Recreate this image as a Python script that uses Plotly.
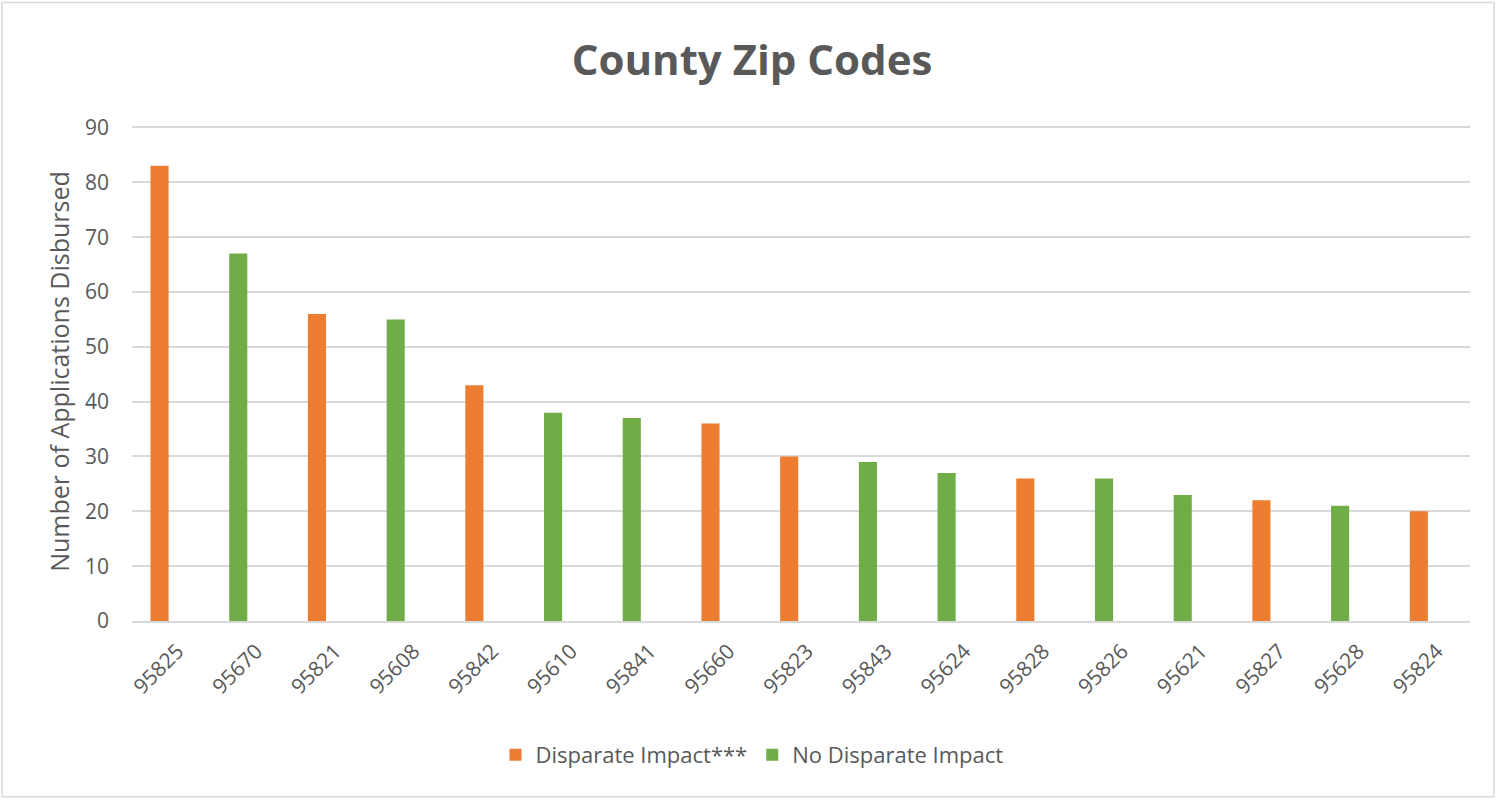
import plotly.graph_objects as go

zips = ["95825", "95670", "95821", "95608", "95842", "95610", "95841", "95660", "95823",
        "95843", "95624", "95828", "95826", "95621", "95827", "95628", "95824"]
values = [83, 67, 56, 55, 43, 38, 37, 36, 30, 29, 27, 26, 26, 23, 22, 21, 20]
impact = [True, False, True, False, True, False, False, True, True,
          False, False, True, False, False, True, False, True]

di_x = [z for z, i in zip(zips, impact) if i]
di_y = [v for v, i in zip(values, impact) if i]
ndi_x = [z for z, i in zip(zips, impact) if not i]
ndi_y = [v for v, i in zip(values, impact) if not i]

W, H = 1497, 800
L, R, T, B = 132, 1470, 121.5, 621
FONT = "Open Sans, sans-serif"
GREY = "#595959"

fig = go.Figure()
fig.add_trace(go.Bar(x=di_x, y=di_y, name="Disparate Impact***", marker_color="#ED7D31",
                     width=0.23, marker_line_width=0))
fig.add_trace(go.Bar(x=ndi_x, y=ndi_y, name="No Disparate Impact", marker_color="#70AD47",
                     width=0.23, marker_line_width=0))

fx = lambda px: (px - L) / (R - L)
fy = lambda py: (B - py) / (B - T)

fig.update_layout(
    width=W, height=H,
    margin=dict(l=L, r=W - R, t=T, b=H - B),
    paper_bgcolor="white", plot_bgcolor="white",
    barmode="overlay",
    font=dict(family=FONT, color=GREY),
    title=dict(text="<b>County Zip Codes</b>", x=fx(752), xanchor="center", xref="paper",
               y=1 - 60 / H, yanchor="middle",
               font=dict(size=42, color=GREY, family=FONT)),
    xaxis=dict(type="category", categoryorder="array", categoryarray=zips,
               range=[-0.35, 16.65], tickangle=-45, tickfont=dict(size=21, color=GREY),
               ticklabelshift=18, ticklabelstandoff=8,
               showgrid=False, showline=True, linecolor="#d9d9d9", linewidth=1.5, ticks=""),
    yaxis=dict(range=[0, 91], tickvals=list(range(0, 100, 10)), tickfont=dict(size=21, color=GREY),
               showgrid=True, gridcolor="#d9d9d9", gridwidth=1.5, zeroline=False, ticks="",
               ticklabelstandoff=22,
               title=dict(text="Number of Applications Disbursed", font=dict(size=25, color=GREY), standoff=8)),
    legend=dict(orientation="h", x=fx(752), xanchor="center", y=fy(755), yanchor="middle",
                font=dict(size=22, color=GREY), traceorder="normal", itemwidth=30),
    showlegend=True,
    shapes=[dict(type="rect", xref="paper", yref="paper",
                 x0=fx(2), x1=fx(W - 3), y0=fy(H - 3), y1=fy(2),
                 line=dict(color="#d9d9d9", width=1.5))],
)

fig.write_html("out.html", config={"displayModeBar": False},
               post_script="document.body.style.margin='0';document.body.style.overflow='hidden';")
